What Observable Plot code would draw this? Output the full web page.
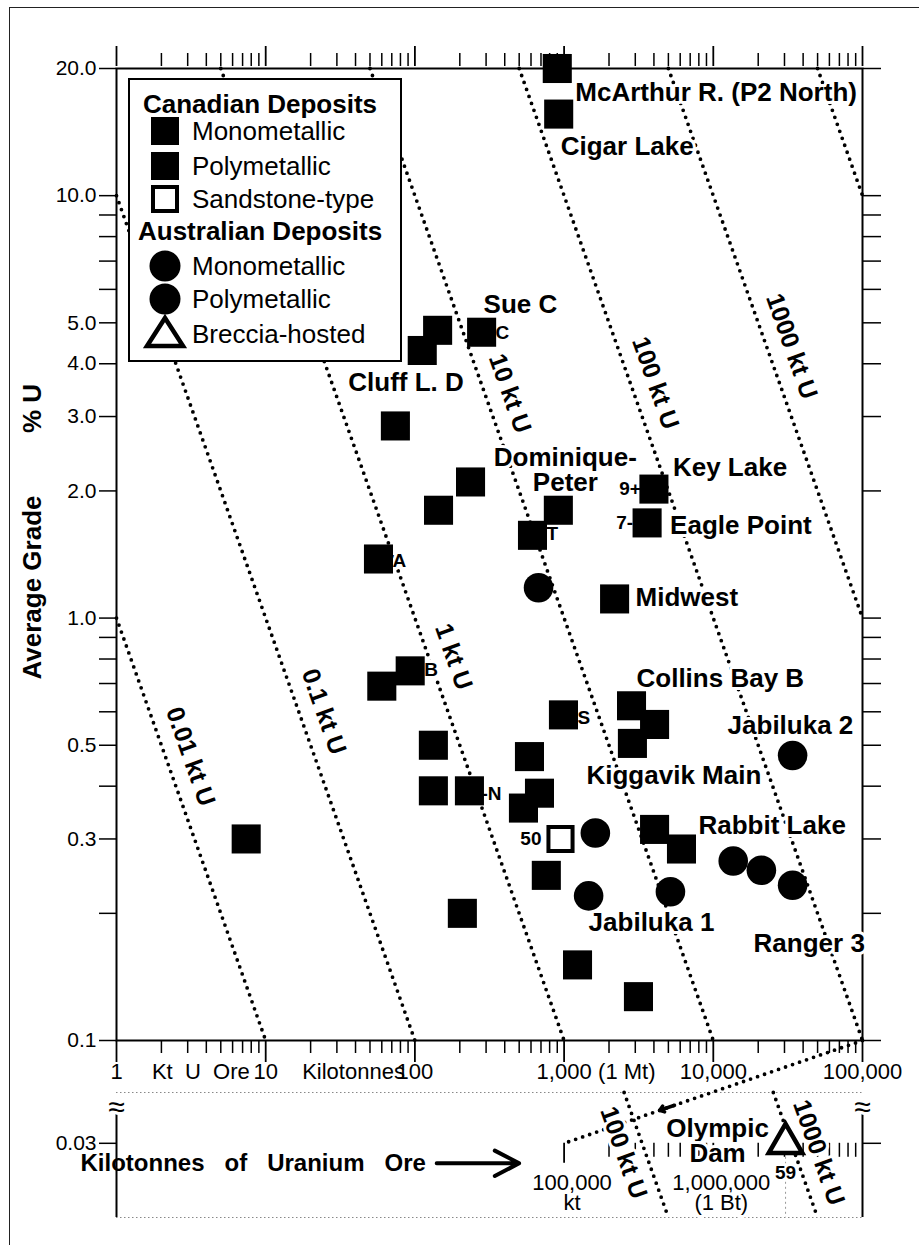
<!DOCTYPE html>
<html><head><meta charset="utf-8">
<script src="https://cdn.jsdelivr.net/npm/d3@7"></script>
<script src="https://cdn.jsdelivr.net/npm/@observablehq/plot@0.6"></script>
<style>
html,body{margin:0;padding:0;background:#fff;}
#wrap{position:relative;width:919px;height:1245px;overflow:hidden;font-family:"Liberation Sans",Arial,sans-serif;color:#000;}
#border{position:absolute;left:9px;top:7px;width:1000px;height:1300px;border:1.5px solid #222;}
#main{position:absolute;left:0;top:0;}
#inset{position:absolute;left:0;top:1085px;}
#legend{position:absolute;left:128px;top:78px;width:270px;height:280px;border:2px solid #000;background:#fff;}
#legend .row{position:absolute;height:30px;line-height:30px;font-size:26px;white-space:nowrap;}
#legend .title{font-weight:bold;}
#legend svg{position:absolute;}
</style></head><body>
<div id="wrap"><div id="border"></div><div id="main"></div><div id="inset"></div><div id="legend"></div></div>
<script>
// ---------- data ----------
const xDomain = [1, 1e5];          // kilotonnes of ore
const yDomain = [0.1, 20];         // % U
const insetXDomain = [100, 1e7];
const insetYDomain = [0.02, 0.0396];

// Canadian deposits (squares)
const canOre   = [900, 920, 142, 112, 280, 74, 236, 144, 57, 915, 614, 4000, 3600, 2180, 60, 93, 990, 133, 586, 133, 232, 684, 534, 7.4, 760, 208, 1230, 3150, 2830, 4040, 2870, 4040, 6120];
const canGrade = [20, 15.6, 4.8, 4.3, 4.75, 2.85, 2.1, 1.8, 1.38, 1.8, 1.57, 2.02, 1.68, 1.11, 0.69, 0.75, 0.59, 0.5, 0.47, 0.39, 0.39, 0.385, 0.355, 0.3, 0.246, 0.2, 0.151, 0.127, 0.62, 0.56, 0.505, 0.316, 0.284];
const canType  = ["mono","poly","poly","poly","mono","poly","mono","poly","mono","mono","mono","poly","mono","poly","poly","poly","mono","poly","mono","poly","mono","mono","mono","poly","mono","poly","mono","mono","poly","poly","poly","mono","mono"];
const canName  = ["McArthur R. (P2 North)","Cigar Lake","","Cluff L. D","Sue C","","","","","Dominique-\nPeter","","Key Lake","Eagle Point","Midwest","","","","","","","","Kiggavik Main","","","","","","","Collins Bay B","","","","Rabbit Lake"];
const canTag   = ["","","","","C","","","","A","","T","9+","7-","","","B","S","","","","-N","","","","","","","","","","","",""];

// Canadian sandstone-type (open square)
const sandOre = [946];
const sandGrade = [0.3];
const sandTag = ["50"];

// Australian deposits (circles)
const ausOre   = [674, 1620, 1460, 5160, 13600, 21000, 34000, 34000];
const ausGrade = [1.18, 0.31, 0.22, 0.225, 0.266, 0.253, 0.233, 0.473];
const ausType  = ["mono","poly","mono","mono","mono","mono","mono","mono"];
const ausName  = ["","","Jabiluka 1","","","","Ranger 3","Jabiluka 2"];

// Australian breccia-hosted (triangle, inset)
const brecOre = [3.05e6];
const brecGrade = [0.03];
const brecName = ["Olympic\nDam"];
const brecTag = ["59"];

// iso-lines of contained uranium (kt U)
const isoU = [0.01, 0.1, 1, 10, 100, 1000, 10000];
const isoLabel = ["0.01 kt U", "0.1 kt U", "1 kt U", "10 kt U", "100 kt U", "1000 kt U", ""];
const insetIsoU = [100, 1000];
const insetIsoLabel = ["100 kt U", "1000 kt U"];

// axis ticks
const yTickValues = [20,10,9,8,7,6,5,4,3,2,1,0.9,0.8,0.7,0.6,0.5,0.4,0.3,0.2,0.1];
const yTickLabels = ["20.0","10.0","","","7.0","","5.0","4.0","3.0","2.0","1.0","","","0.7","","0.5","","0.3","","0.1"];
const xDecades = [1, 10, 100, 1000, 10000, 100000];
const xTickLabels = ["1", "10", "100", "1,000", "10,000", "100,000"];
const insetDecades = [1e5, 1e6];
const insetDecadeLabels = ["100,000\nkt", "1,000,000\n(1 Bt)"];

// ---------- layout / style ----------
const FONT = "'Liberation Sans', Arial, Helvetica, sans-serif";
const W = 919, ML = 116, MR = 57;
const nameLayout = {
  "McArthur R. (P2 North)": [18, 24, "start"],
  "Cigar Lake": [2, 33, "start"],
  "Sue C": [2, -27, "start"],
  "Cluff L. D": [-74, 32, "start"],
  "Dominique-\nPeter": [7, -40, "middle"],
  "Key Lake": [19, -21, "start"],
  "Eagle Point": [23, 3, "start"],
  "Midwest": [21, -1, "start"],
  "Collins Bay B": [5, -27, "start"],
  "Kiggavik Main": [47, -17, "start"],
  "Rabbit Lake": [17, -23, "start"],
  "Jabiluka 1": [0, 27, "start"],
  "Jabiluka 2": [-65, -30, "start"],
  "Ranger 3": [-39, 59, "start"],
  "Olympic\nDam": [-68, -2, "middle"]
};
const tagLayout = {"C":[14,1,"start"],"A":[14,2,"start"],"B":[14,-1,"start"],"T":[14,-1,"start"],"S":[14,3,"start"],"-N":[12,3,"start"],"9+":[-13,0,"end"],"7-":[-14,0,"end"],"50":[-19,0,"end"],"59":[0,30,"middle"]};
const isoLabelGrade = [0.47, 0.6, 0.81, 3.4, 3.6, 4.4];

// ---------- build tables ----------
const canadian = canOre.map((o,i)=>({ore:o, grade:canGrade[i], type:canType[i], name:canName[i], tag:canTag[i]}));
const sandstone = sandOre.map((o,i)=>({ore:o, grade:sandGrade[i], tag:sandTag[i], name:""}));
const australian = ausOre.map((o,i)=>({ore:o, grade:ausGrade[i], type:ausType[i], name:ausName[i], tag:""}));
const breccia = brecOre.map((o,i)=>({ore:o, grade:brecGrade[i], name:brecName[i], tag:brecTag[i]}));
const yLabelMap = new Map(yTickValues.map((v,i)=>[v, yTickLabels[i]]));

function isoSegment(u, xd, yd) {
  const x0 = Math.max(xd[0], 100*u/yd[1]), x1 = Math.min(xd[1], 100*u/yd[0]);
  if (!(x0 < x1)) return [];
  return [{u, ore:x0, grade:100*u/x0}, {u, ore:x1, grade:100*u/x1}];
}
const isoLines = isoU.flatMap(u => isoSegment(u, xDomain, yDomain));
const insetIsoLines = insetIsoU.flatMap(u => isoSegment(u, insetXDomain, insetYDomain));

const xMinor = [];
for (const d of [1,10,100,1000,10000]) for (let k=2;k<=9;k++) xMinor.push(k*d);
const insetMinor = [];
for (const d of [1e5,1e6]) for (let k=2;k<=9;k++) insetMinor.push(k*d);

const dotStyle = {stroke:"#000", strokeWidth:3.8, strokeDasharray:"0 7.4", strokeLinecap:"round"};
const halo = {stroke:"#fff", strokeWidth:6, paintOrder:"stroke", fill:"#000"};

function nameMarks(rows, key, layout, size) {
  return rows.filter(r => r[key]).map(r => {
    const [dx, dy, anchor] = layout[r[key]];
    return Plot.text([r], {x:"ore", y:"grade", text: d => d[key], dx, dy, textAnchor: anchor,
      fontSize: size, fontWeight: "bold", lineHeight: 0.98, ...halo});
  });
}

// ---------- main chart ----------
const mainH = 1090, MT = 68, MB = mainH - 1040;
const mainChart = Plot.plot({
  width: W, height: mainH,
  marginLeft: ML, marginRight: MR, marginTop: MT, marginBottom: MB,
  x: {type: "log", domain: xDomain},
  y: {type: "log", domain: yDomain},
  style: {fontFamily: FONT, background: "transparent", overflow: "visible", color: "#000"},
  marks: [
    Plot.line(isoLines, {x:"ore", y:"grade", z:"u", ...dotStyle}),
    ...isoLabel.map((t,i) => t ? Plot.text([{ore: 100*isoU[i]/isoLabelGrade[i], grade: isoLabelGrade[i], t}],
       {x:"ore", y:"grade", text:"t", rotate:70.5, dx:25, fontSize:25, fontWeight:"bold", ...halo}) : null).filter(Boolean),
    Plot.frame({stroke:"#000", strokeWidth:2}),
    // bottom axis
    Plot.axisX({anchor:"bottom", ticks:xMinor, tickSize:13, tickFormat:()=> "", label:null, strokeWidth:1.5}),
    Plot.axisX({anchor:"bottom", ticks:xDecades, tickSize:22, tickFormat:()=> "", label:null, strokeWidth:1.8}),
    // top axis (detached ticks)
    Plot.axisX({anchor:"top", ticks:xMinor, tickSize:13, tickFormat:()=> "", label:null, dy:-3, strokeWidth:1.5}),
    Plot.axisX({anchor:"top", ticks:xDecades, tickSize:20, tickFormat:()=> "", label:null, dy:-3, strokeWidth:1.8}),
    // left & right axes
    Plot.axisY({anchor:"left", ticks:yTickValues, tickSize:17, tickPadding:3, tickFormat:d=>yLabelMap.get(d) ?? "", label:null, fontSize:21, strokeWidth:1.5}),
    Plot.axisY({anchor:"right", ticks:yTickValues, tickSize:18, tickFormat:()=> "", label:null, strokeWidth:1.5}),
    // x tick labels
    Plot.text(xDecades, {x:d=>d, text:(d,i)=>xTickLabels[i], frameAnchor:"bottom", dy:38, fontSize:22}),
    Plot.text(["(1 Mt)"], {x:()=>1000, text:d=>d, frameAnchor:"bottom", dy:38, dx:34, textAnchor:"start", fontSize:22}),
    Plot.text(["Kt\u00a0\u00a0U\u00a0\u00a0Ore"], {x:()=>10, text:d=>d, frameAnchor:"bottom", dy:38, dx:-16, textAnchor:"end", fontSize:22}),
    Plot.text(["Kilotonnes"], {x:()=>100, text:d=>d, frameAnchor:"bottom", dy:38, dx:-10, textAnchor:"end", fontSize:22}),
    // y title
    Plot.text(["Average Grade"], {frameAnchor:"left", text:d=>d, rotate:-90, textAnchor:"middle", dx:-84, dy:33, fontSize:26, fontWeight:"bold"}),
    Plot.text(["% U"], {frameAnchor:"left", text:d=>d, rotate:-90, textAnchor:"middle", dx:-84, dy:-146, fontSize:26, fontWeight:"bold"}),
    // small tags (under the symbols)
    ...nameMarks([...canadian, ...sandstone], "tag", tagLayout, 19),
    // deposit names
    ...nameMarks([...canadian, ...australian], "name", nameLayout, 26),
    // symbols
    Plot.dot(canadian, {x:"ore", y:"grade", symbol:"square", r:16.4, fill:"#000"}),
    Plot.dot(sandstone, {x:"ore", y:"grade", symbol:"square", r:13.6, fill:"#fff", stroke:"#000", strokeWidth:4}),
    Plot.dot(australian, {x:"ore", y:"grade", symbol:"circle", r:14.8, fill:"#000"})
  ]
});
document.getElementById("main").append(mainChart);

// ---------- inset (break: very large, low-grade deposit) ----------
const insetTop = 1085, insetH = 160, iMT = 7, iMB = 28;
const mX = mainChart.scale("x"), mY = mainChart.scale("y");
const iX = Plot.scale({x:{type:"log", domain:insetXDomain, range:[ML, W-MR]}});
const iY = Plot.scale({y:{type:"log", domain:insetYDomain, range:[insetH-iMB, iMT]}});
const tickDy = iY.apply(0.03) - (insetH - iMB);
const conTop = {ore: iX.invert(mX.apply(xDomain[1])), grade: iY.invert(mY.apply(yDomain[0]) - insetTop)};
const conBot = {ore: insetDecades[0], grade: brecGrade[0]};
function conAt(t) {
  return {
    ore: iX.invert(iX.apply(conBot.ore) + t*(iX.apply(conTop.ore)-iX.apply(conBot.ore))),
    grade: iY.invert(iY.apply(conBot.grade) + t*(iY.apply(conTop.grade)-iY.apply(conBot.grade)))
  };
}
const headFrom = conAt(0.37), headTo = conAt(0.32);

const insetChart = Plot.plot({
  width: W, height: insetH,
  marginLeft: ML, marginRight: MR, marginTop: iMT, marginBottom: iMB,
  x: {type:"log", domain: insetXDomain},
  y: {type:"log", domain: insetYDomain},
  style: {fontFamily: FONT, background: "transparent", overflow: "visible", color:"#000"},
  marks: [
    Plot.ruleY(insetYDomain, {stroke:"#888", strokeWidth:1, strokeDasharray:"1.5 2.5"}),
    Plot.ruleX(insetXDomain, {stroke:"#000", strokeWidth:2, insetTop:8}),
    Plot.ruleX(brecOre, {y1: brecGrade[0], y2: insetYDomain[0], stroke:"#999", strokeWidth:1, strokeDasharray:"2 3", insetTop: 14}),
    Plot.axisX({anchor:"bottom", ticks:insetMinor, tickSize:14, tickFormat:()=> "", label:null, dy:tickDy, strokeWidth:1.5}),
    Plot.axisX({anchor:"bottom", ticks:insetDecades, tickSize:20, tickFormat:()=> "", label:null, dy:tickDy, strokeWidth:1.8}),
    Plot.axisY({anchor:"left", ticks:[0.03], tickSize:17, tickPadding:3, tickFormat:()=>"0.03", label:null, fontSize:21, strokeWidth:1.5}),
    Plot.axisY({anchor:"right", ticks:[0.03], tickSize:18, tickFormat:()=> "", label:null, strokeWidth:1.5}),
    Plot.line(insetIsoLines, {x:"ore", y:"grade", z:"u", ...dotStyle}),
    Plot.link([{a:conTop, b:conBot}], {x1:d=>d.a.ore, y1:d=>d.a.grade, x2:d=>d.b.ore, y2:d=>d.b.grade, ...dotStyle}),
    Plot.arrow([{a:headFrom, b:headTo}], {x1:d=>d.a.ore, y1:d=>d.a.grade, x2:d=>d.b.ore, y2:d=>d.b.grade, stroke:"#000", strokeWidth:3.5, headLength:14, headAngle:70}),
    Plot.text(insetXDomain, {x:d=>d, text:()=>"\u2248", frameAnchor:"top", dy:3, fontSize:30, ...halo}),
    Plot.text(insetDecades, {x:d=>d, y:()=>0.03, text:(d,i)=>insetDecadeLabels[i], dx:8, dy:50, fontSize:22, lineHeight:0.95, ...halo}),
    ...insetIsoLabel.map((t,i)=>{ const g = 0.0285; return Plot.text([{ore:100*insetIsoU[i]/g, grade:g, t}],
        {x:"ore", y:"grade", text:"t", rotate:70.5, dx: i===0 ? -22 : 24, fontSize:25, fontWeight:"bold", ...halo}); }),
    Plot.text(["Kilotonnes\u00a0\u00a0\u00a0of\u00a0\u00a0\u00a0Uranium\u00a0\u00a0\u00a0Ore"], {frameAnchor:"left", y:()=>0.03, text:d=>d, dx:-36, dy:20, textAnchor:"start", fontSize:24, fontWeight:"bold"}),
    Plot.arrow([0], {x1:()=>14000, x2:()=>50000, y1:()=>0.03, y2:()=>0.03, dy:20, stroke:"#000", strokeWidth:4, headLength:16, headAngle:55}),
    ...nameMarks(breccia, "tag", tagLayout, 19),
    ...nameMarks(breccia, "name", nameLayout, 26),
    Plot.dot(breccia, {x:"ore", y:"grade", symbol:"triangle", r:12.5, fill:"#fff", stroke:"#000", strokeWidth:4.5})
  ]
});
document.getElementById("inset").append(insetChart);

// ---------- legend ----------
const legendRows = [
  {kind:"title", text:"Canadian Deposits", y:24, x:13},
  {kind:"square", text:"Monometallic", y:51},
  {kind:"square", text:"Polymetallic", y:86},
  {kind:"open", text:"Sandstone-type", y:119},
  {kind:"title", text:"Australian Deposits", y:151, x:8},
  {kind:"circle", text:"Monometallic", y:186},
  {kind:"circle", text:"Polymetallic", y:219},
  {kind:"triangle", text:"Breccia-hosted", y:254}
];
const legend = document.getElementById("legend");
const symbolSvg = {
  square: '<rect x="3" y="3" width="28" height="28" fill="#000"/>',
  open: '<rect x="5" y="5" width="24" height="24" fill="#fff" stroke="#000" stroke-width="4"/>',
  circle: '<circle cx="17" cy="17" r="15.5" fill="#000"/>',
  triangle: '<polygon points="17,3 35,31 -1,31" fill="#fff" stroke="#000" stroke-width="4.5" stroke-linejoin="miter"/>'
};
for (const r of legendRows) {
  const div = document.createElement("div");
  div.className = "row" + (r.kind === "title" ? " title" : "");
  div.textContent = r.text;
  div.style.top = (r.y - 15) + "px";
  div.style.left = (r.kind === "title" ? r.x : 62) + "px";
  legend.append(div);
  if (r.kind !== "title") {
    const ns = "http://www.w3.org/2000/svg";
    const s = document.createElementNS(ns, "svg");
    s.setAttribute("width", 36); s.setAttribute("height", 36);
    s.setAttribute("viewBox", "-1 0 36 36");
    s.style.left = (34 - 17) + "px"; s.style.top = (r.y - 17 + (r.kind === "triangle" ? -2 : 0)) + "px";
    s.style.overflow = "visible";
    s.innerHTML = symbolSvg[r.kind];
    legend.append(s);
  }
}
</script>
</body></html>
